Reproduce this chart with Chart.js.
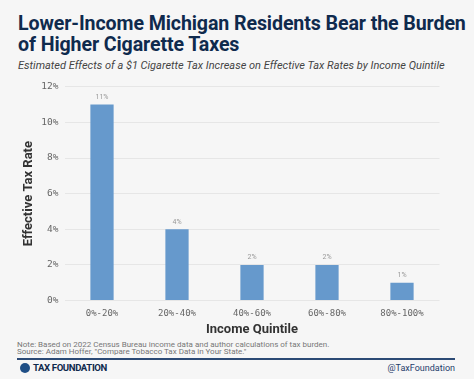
<!DOCTYPE html>
<html>
<head>
<meta charset="utf-8">
<script src="https://cdn.jsdelivr.net/npm/chart.js@4"></script>
<style>
  html, body { margin: 0; padding: 0; }
  body { width: 474px; height: 379px; background: #f6f6f6; position: relative; overflow: hidden; font-family: Roboto, sans-serif; }
  #title { position: absolute; left: 18px; top: 13px; width: 456px; font-size: 19.6px; line-height: 21px; font-weight: 700; color: #0f2a4d; letter-spacing: -0.1px; white-space: nowrap; }
  #subtitle { position: absolute; left: 18px; top: 59px; font-size: 11px; font-style: italic; color: #444; white-space: nowrap; }
  #wrap { position: absolute; left: 0; top: 75px; width: 474px; height: 264px; }
  #note { position: absolute; left: 17px; top: 341px; font-size: 8px; line-height: 7px; color: #777; white-space: nowrap; }
  #rule { position: absolute; left: 17px; top: 358px; width: 438px; height: 1.5px; background: #2c4a75; }
  #logo { position: absolute; left: 20px; top: 362px; font-size: 9.6px; line-height: 12px; font-weight: 700; color: #0f2a4d; letter-spacing: -0.4px; white-space: nowrap; }
  #logo span { display: inline-block; width: 10px; height: 10px; border-radius: 50%; background: #1f4f86; vertical-align: -2px; margin-right: 3px; }
  #handle { position: absolute; right: 19px; top: 362px; font-size: 9px; line-height: 12px; color: #1f3d6b; }
</style>
</head>
<body>
<div id="title">Lower-Income Michigan Residents Bear the Burden<br>of Higher Cigarette Taxes</div>
<div id="subtitle">Estimated Effects of a $1 Cigarette Tax Increase on Effective Tax Rates by Income Quintile</div>
<div id="wrap"><canvas id="chart"></canvas></div>
<div id="note">Note: Based on 2022 Census Bureau income data and author calculations of tax burden.<br>Source: Adam Hoffer, "Compare Tobacco Tax Data in Your State."</div>
<div id="rule"></div>
<div id="logo"><span></span>TAX FOUNDATION</div>
<div id="handle">@TaxFoundation</div>
<script>
const ctx = document.querySelector("#chart");

const quintiles = ["0%-20%", "20%-40%", "40%-60%", "60%-80%", "80%-100%"];
const taxRates = [11, 4, 2, 2, 1];
const yTicks = [0, 2, 4, 6, 8, 10, 12];

// small value labels above each bar
const barLabels = {
    id: "barLabels",
    afterDatasetsDraw(chart) {
        const c = chart.ctx;
        const meta = chart.getDatasetMeta(0);
        c.save();
        c.font = "7px Roboto";
        c.fillStyle = "#999";
        c.textAlign = "center";
        c.textBaseline = "bottom";
        meta.data.forEach((bar, i) => {
            c.fillText(taxRates[i] + "%", bar.x, bar.y - 4);
        });
        c.restore();
    }
};

const config = {
    type: "bar",
    data: {
        labels: quintiles,
        datasets: [{
            label: "Effective Tax Rate",
            data: taxRates,
            backgroundColor: "#6699cc",
            barPercentage: 0.31,
            categoryPercentage: 1,
        }],
    },
    options: {
        responsive: true,
        maintainAspectRatio: false,
        animation: false,
        layout: {
            padding: { left: 21, right: 34.5, top: 1, bottom: 1 }
        },
        plugins: {
            legend: { display: false },
            tooltip: { enabled: false },
        },
        scales: {
            x: {
                grid: { display: false, drawTicks: false },
                border: { display: false },
                ticks: {
                    font: { family: "DejaVu Sans Mono", size: 9 },
                    color: "#666",
                    padding: 8,
                },
                title: {
                    display: true,
                    text: "Income Quintile",
                    font: { family: "Roboto", size: 13, weight: "bold" },
                    color: "#333",
                    padding: { top: -5, bottom: 0 },
                },
            },
            y: {
                min: 0,
                max: 12,
                afterBuildTicks: (scale) => {
                    scale.ticks = yTicks.map(v => ({ value: v }));
                },
                afterFit: (scale) => { scale.width = 43.5; },
                grid: { color: "#e6e6e6", drawTicks: false },
                border: { display: false },
                ticks: {
                    font: { family: "DejaVu Sans Mono", size: 9.5 },
                    color: "#666",
                    padding: 6,
                    callback: (v) => v + "%",
                },
                title: {
                    display: true,
                    text: "Effective Tax Rate",
                    font: { family: "Roboto", size: 13, weight: "bold" },
                    color: "#333",
                    padding: { top: 0, bottom: 0 },
                },
            },
        },
    },
    plugins: [barLabels],
};

new Chart(ctx, config);
</script>
</body>
</html>
